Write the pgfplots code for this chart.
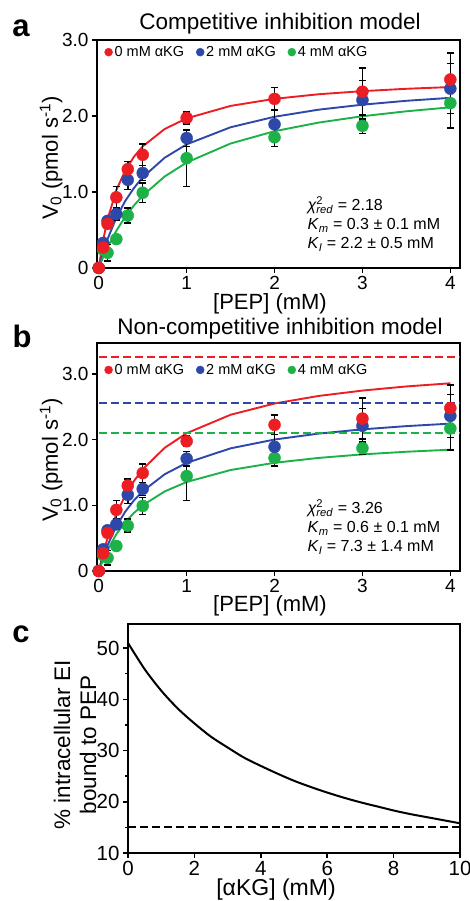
\documentclass[border=0pt]{standalone}
\usepackage{fontspec}
\setmainfont{Liberation Sans}
\usepackage{pgfplots}
\pgfplotsset{compat=1.18}
\usepackage{pgfplotstable}
\definecolor{cred}{RGB}{236,30,36}
\definecolor{cblue}{RGB}{45,72,168}
\definecolor{cgreen}{RGB}{28,178,72}

\pgfplotstableread{
x y e
0 0 0
0.05 0.27 0.05
0.1 0.58 0.06
0.2 0.93 0.14
0.33 1.30 0.10
0.5 1.49 0.14
1 1.975 0.08
2 2.225 0.15
3 2.32 0.31
4 2.48 0.35
}\redpts
\pgfplotstableread{
x y e
0 0 0
0.05 0.33 0.05
0.1 0.62 0.06
0.2 0.71 0.08
0.33 1.16 0.13
0.5 1.25 0.10
1 1.71 0.11
2 1.89 0.19
3 2.21 0.26
4 2.36 0.33
}\bluepts
\pgfplotstableread{
x y e
0 0 0
0.05 0.24 0.05
0.1 0.20 0.11
0.2 0.38 0.05
0.33 0.69 0.10
0.5 0.99 0.13
1 1.445 0.37
2 1.72 0.12
3 1.87 0.10
4 2.17 0.33
}\greenpts
% fits, competitive model
\pgfplotstableread{
x r b g
0 0 0 0
0.05 0.366 0.205 0.143
0.1 0.640 0.380 0.271
0.2 1.024 0.662 0.490
0.3 1.280 0.880 0.671
0.4 1.463 1.052 0.822
0.5 1.600 1.193 0.952
0.75 1.829 1.451 1.204
1 1.969 1.627 1.388
1.5 2.133 1.852 1.638
2 2.226 1.990 1.800
2.5 2.286 2.083 1.913
3 2.327 2.149 1.997
3.5 2.358 2.200 2.062
4 2.381 2.239 2.114
}\fitA
% fits, non-competitive model
\pgfplotstableread{
x r b g
0 0 0 0
0.05 0.271 0.213 0.175
0.1 0.500 0.392 0.323
0.2 0.867 0.680 0.560
0.3 1.147 0.900 0.741
0.4 1.368 1.074 0.884
0.5 1.548 1.215 1.000
0.75 1.875 1.472 1.211
1 2.097 1.646 1.355
1.5 2.378 1.867 1.537
2 2.549 2.001 1.647
2.5 2.664 2.091 1.721
3 2.746 2.156 1.775
3.5 2.809 2.205 1.815
4 2.857 2.243 1.846
}\fitB
\pgfplotstableread{
x y
0 51.0
0.5 45.9
1 41.7
1.5 38.2
2 35.3
2.5 32.7
3 30.6
3.5 28.6
4 27.0
4.5 25.5
5 24.1
5.5 22.9
6 21.8
6.5 20.8
7 19.9
7.5 19.1
8 18.3
8.5 17.6
9 17.0
9.5 16.4
10 15.8
}\fracC

\pgfplotsset{
  panel/.style={
    scale only axis, anchor=north west,
    axis line style={line width=1.9pt},
    tick style={line width=1.5pt, black},
    major tick length=5pt, minor tick length=3pt,
    tick align=outside, xtick pos=bottom, ytick pos=left,
    /pgf/number format/assume math mode=true,
    clip=false,
  },
  vpanel/.style={
    panel, width=363pt, height=228pt,
    xmin=-0.02, xmax=4.11, ymin=0,
    xtick={0,1,2,3,4},
    ytick={0,1,2,3}, yticklabels={0,1.0,2.0,3.0},
    ticklabel style={font=\fontsize{19}{19}\selectfont},
    legend columns=3,
    legend style={draw=none, fill=none, font=\fontsize{14.5}{14.5}\selectfont,
      anchor=west, /tikz/every even column/.append style={column sep=10pt}},
    legend cell align=left,
  },
  pts/.style={only marks, mark=*, mark size=6pt, forget plot,
    error bars/y dir=both, error bars/y explicit,
    error bars/error bar style={black, line width=1.5pt},
    error bars/error mark options={rotate=90, mark size=3.5pt, black, line width=1.5pt}},
  fit/.style={line width=1.9pt, no marks, forget plot},
  hd/.style={line width=2pt, dash pattern=on 8pt off 4pt, no marks, forget plot},
}

\begin{document}
\begin{tikzpicture}
\useasboundingbox (0,0) rectangle (469pt,-901pt);

% ---------------- panel a
\begin{axis}[vpanel, at={(97pt,-40pt)}, ymax=3.0,
  legend style={at={(axis cs:0.03,2.84)}}]
\addlegendimage{only marks, mark=*, mark size=4pt, cred}
\addlegendentry{0 mM αKG}
\addlegendimage{only marks, mark=*, mark size=4pt, cblue}
\addlegendentry{2 mM αKG}
\addlegendimage{only marks, mark=*, mark size=4pt, cgreen}
\addlegendentry{4 mM αKG}
\addplot[fit, cred] table[x=x, y=r] {\fitA};
\addplot[fit, cblue] table[x=x, y=b] {\fitA};
\addplot[fit, cgreen] table[x=x, y=g] {\fitA};
\addplot[pts, cgreen] table[x=x, y=y, y error=e] {\greenpts};
\addplot[pts, cblue] table[x=x, y=y, y error=e] {\bluepts};
\addplot[pts, cred] table[x=x, y=y, y error=e] {\redpts};
\end{axis}

% ---------------- panel b
\begin{axis}[vpanel, at={(97pt,-343pt)}, ymax=3.47,
  legend style={at={(axis cs:0.03,3.06)}}]
\addlegendimage{only marks, mark=*, mark size=4pt, cred}
\addlegendentry{0 mM αKG}
\addlegendimage{only marks, mark=*, mark size=4pt, cblue}
\addlegendentry{2 mM αKG}
\addlegendimage{only marks, mark=*, mark size=4pt, cgreen}
\addlegendentry{4 mM αKG}
\addplot[fit, cred] table[x=x, y=r] {\fitB};
\addplot[fit, cblue] table[x=x, y=b] {\fitB};
\addplot[fit, cgreen] table[x=x, y=g] {\fitB};
\addplot[hd, color={rgb,255:red,28;green,178;blue,72}] coordinates {(0,2.10) (4.11,2.10)};
\addplot[hd, color={rgb,255:red,45;green,72;blue,168}] coordinates {(0,2.555) (4.11,2.555)};
\addplot[hd, color={rgb,255:red,236;green,30;blue,36}] coordinates {(0,3.255) (4.11,3.255)};
\addplot[pts, cgreen] table[x=x, y=y, y error=e] {\greenpts};
\addplot[pts, cblue] table[x=x, y=y, y error=e] {\bluepts};
\addplot[pts, cred] table[x=x, y=y, y error=e] {\redpts};
\end{axis}

% ---------------- panel c
\begin{axis}[panel, at={(128pt,-624pt)}, width=332pt, height=229pt,
  xmin=0, xmax=10, ymin=10, ymax=54.7,
  xtick={0,2,4,6,8,10}, ytick={10,20,30,40,50}, minor ytick={15,25,35,45},
  ticklabel style={font=\fontsize{20.5}{20.5}\selectfont}]
\addplot[black, line width=2pt, no marks, smooth] table[x=x, y=y] {\fracC};
\addplot[hd, black] coordinates {(0,15) (10,15)};
\end{axis}

% ---------------- text
\node[font=\fontsize{31}{31}\selectfont\bfseries] at (21pt,-28pt) {a};
\node[font=\fontsize{31}{31}\selectfont\bfseries] at (22pt,-336pt) {b};
\node[font=\fontsize{31}{31}\selectfont\bfseries] at (21pt,-634pt) {c};

\node[font=\fontsize{22.5}{22.5}\selectfont] at (280pt,-24pt) {Competitive inhibition model};
\node[font=\fontsize{22.5}{22.5}\selectfont] at (280pt,-329pt) {Non-competitive inhibition model};

\node[font=\fontsize{22}{22}\selectfont, rotate=90] at (51pt,-158pt) {V\textsubscript{0} (pmol s\textsuperscript{-1})};
\node[font=\fontsize{22}{22}\selectfont, rotate=90] at (51pt,-460pt) {V\textsubscript{0} (pmol s\textsuperscript{-1})};
\node[font=\fontsize{22}{22}\selectfont] at (270pt,-304pt) {[PEP] (mM)};
\node[font=\fontsize{22}{22}\selectfont] at (270pt,-606pt) {[PEP] (mM)};

\node[font=\fontsize{22.5}{22.5}\selectfont, rotate=90] at (62pt,-745pt) {\% intracellular EI};
\node[font=\fontsize{22.5}{22.5}\selectfont, rotate=90] at (88pt,-745pt) {bound to PEP};
\node[font=\fontsize{23}{23}\selectfont] at (276pt,-890pt) {[αKG] (mM)};

\node[font=\fontsize{16}{19}\selectfont, align=left, anchor=north west] at (304pt,-193pt)
  {\textit{χ}\rlap{\textsuperscript{2}}\textsubscript{\textit{red}} = 2.18\\
   \textit{K}\textsubscript{\textit{m}} = 0.3 ± 0.1 mM\\
   \textit{K}\textsubscript{\textit{I}} = 2.2 ± 0.5 mM};
\node[font=\fontsize{16}{19}\selectfont, align=left, anchor=north west] at (304pt,-496pt)
  {\textit{χ}\rlap{\textsuperscript{2}}\textsubscript{\textit{red}} = 3.26\\
   \textit{K}\textsubscript{\textit{m}} = 0.6 ± 0.1 mM\\
   \textit{K}\textsubscript{\textit{I}} = 7.3 ± 1.4 mM};
\end{tikzpicture}
\end{document}
